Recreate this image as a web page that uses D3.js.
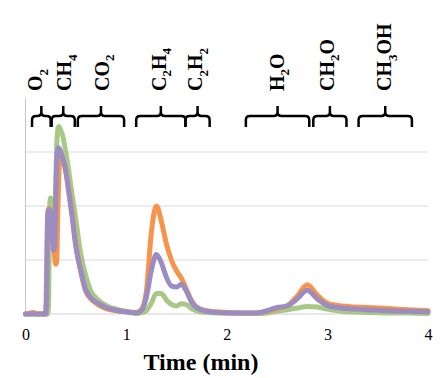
<!DOCTYPE html>
<html>
<head>
<meta charset="utf-8">
<script src="https://cdn.jsdelivr.net/npm/d3@7"></script>
<style>
  body { margin: 0; background: #fff; }
  svg { display: block; }
</style>
</head>
<body>
<svg id="chart" width="443" height="378"></svg>
<script>
// time axis (min), shared by all three traces
const times = [0, 0.05, 0.08, 0.12, 0.20, 0.21, 0.22, 0.23, 0.24, 0.25, 0.26, 0.27, 0.28, 0.29, 0.30,
  0.31, 0.32, 0.33, 0.34, 0.35, 0.37, 0.40, 0.43, 0.46, 0.50, 0.55, 0.60, 0.65, 0.70, 0.80, 0.90, 1.00,
  1.10, 1.15, 1.20, 1.25, 1.30, 1.35, 1.40, 1.45, 1.50, 1.55, 1.60, 1.65, 1.70, 1.80, 1.90, 2.00,
  2.20, 2.30, 2.40, 2.50, 2.60, 2.70, 2.80, 2.90, 3.00, 3.10, 3.20, 3.40, 3.60, 3.80, 4.00];

const orangeTrace = [0, 0.02, 0.03, 0, 0, 0.8, 1.85, 1.95, 1.95, 1.9, 1.75, 1.5, 1.25, 1.05, 0.92, 0.98,
  1.8, 2.5, 2.85, 2.9, 2.85, 2.65, 2.3, 1.9, 1.3, 0.78, 0.42, 0.28, 0.2, 0.1, 0.06, 0.04,
  0.03, 0.08, 0.4, 1.5, 2.0, 1.72, 1.3, 1.0, 0.8, 0.66, 0.45, 0.25, 0.13, 0.06, 0.04, 0.03,
  0.02, 0.02, 0.05, 0.1, 0.15, 0.33, 0.54, 0.35, 0.2, 0.16, 0.14, 0.12, 0.1, 0.08, 0.06];

const greenTrace = [0, 0, 0, 0, 0, 0, 0, 0.2, 2.0, 2.15, 2.0, 1.6, 1.35, 1.5, 2.4, 3.1,
  3.4, 3.47, 3.45, 3.4, 3.3, 3.0, 2.65, 2.25, 1.75, 1.1, 0.7, 0.42, 0.3, 0.16, 0.09, 0.05,
  0.01, 0.02, 0.06, 0.2, 0.38, 0.38, 0.26, 0.18, 0.15, 0.19, 0.17, 0.1, 0.06, 0.03, 0.02, 0.02,
  0.01, 0.01, 0.02, 0.05, 0.08, 0.11, 0.14, 0.13, 0.09, 0.06, 0.04, 0.03, 0.02, 0.02, 0.01];

const purpleTrace = [0, 0, 0, 0, 0, 0.3, 1.75, 1.92, 1.93, 1.8, 1.55, 1.35, 1.18, 1.3, 2.1, 2.8,
  3.05, 3.08, 3.05, 3.0, 2.88, 2.65, 2.25, 1.85, 1.25, 0.8, 0.44, 0.3, 0.22, 0.12, 0.07, 0.04,
  0.02, 0.06, 0.3, 0.8, 1.1, 0.95, 0.68, 0.52, 0.5, 0.55, 0.42, 0.22, 0.12, 0.05, 0.03, 0.02,
  0.02, 0.02, 0.06, 0.12, 0.15, 0.28, 0.44, 0.28, 0.16, 0.12, 0.1, 0.08, 0.06, 0.05, 0.04];

// species brackets along the top (time units)
const species = ["O2", "CH4", "CO2", "C2H4", "C2H2", "H2O", "CH2O", "CH3OH"];
const bracketStart = [0.065, 0.26, 0.52, 1.10, 1.59, 2.19, 2.86, 3.31];
const bracketEnd = [0.25, 0.49, 0.98, 1.59, 1.83, 2.82, 3.19, 3.84];
const labelTime = [0.10, 0.39, 0.76, 1.33, 1.69, 2.50, 3.00, 3.57];

const xTicks = [0, 1, 2, 3, 4];
const gridValues = [1, 2, 3];

const margin = { top: 98, right: 15, bottom: 64, left: 25.5 };
const width = 443, height = 378;

const svg = d3.select("#chart");

const x = d3.scaleLinear().domain([0, 4]).range([margin.left, width - margin.right]);
const y = d3.scaleLinear().domain([0, 4]).range([height - margin.bottom, margin.top]);

// gridlines
svg.append("g")
  .selectAll("line")
  .data(gridValues)
  .join("line")
  .attr("x1", x(0)).attr("x2", x(4))
  .attr("y1", d => y(d)).attr("y2", d => y(d))
  .attr("stroke", "#d9d9d9")
  .attr("stroke-width", 1);

// axis lines
svg.append("line")
  .attr("x1", x(0)).attr("x2", x(0))
  .attr("y1", y(0)).attr("y2", y(4))
  .attr("stroke", "#c8c8c8");
svg.append("line")
  .attr("x1", x(0)).attr("x2", x(4))
  .attr("y1", y(0)).attr("y2", y(0))
  .attr("stroke", "#d0d0d0");

// x tick labels
const xAxis = svg.append("g")
  .attr("transform", `translate(0,${y(0)})`)
  .call(d3.axisBottom(x).tickValues(xTicks).tickFormat(d3.format("d")).tickSize(0).tickPadding(15));
xAxis.select(".domain").remove();
xAxis.selectAll("text")
  .attr("font-family", "'Liberation Serif', 'Times New Roman', serif")
  .attr("font-size", 16)
  .attr("fill", "#000");

svg.append("text")
  .attr("x", 201)
  .attr("y", 370)
  .attr("text-anchor", "middle")
  .attr("font-family", "'Liberation Serif', 'Times New Roman', serif")
  .attr("font-weight", "bold")
  .attr("font-size", 24)
  .text("Time (min)");

// traces
const line = d3.line()
  .x(d => x(d[0]))
  .y(d => y(d[1]))
  .curve(d3.curveMonotoneX);

const traces = [
  { values: greenTrace, color: "#a8c986" },
  { values: orangeTrace, color: "#f7934a" },
  { values: purpleTrace, color: "#9b8cc2" }
];

traces.forEach(tr => {
  svg.append("path")
    .datum(times.map((t, i) => [t, tr.values[i]]))
    .attr("d", line)
    .attr("fill", "none")
    .attr("stroke", tr.color)
    .attr("stroke-width", 5)
    .attr("stroke-linejoin", "round")
    .attr("stroke-linecap", "round");
});

// curly brackets
const yTip = 106, yBar = 116, yEnd = 127, r = 4;
function bracePath(x0, x1) {
  const xm = (x0 + x1) / 2;
  return `M${x0},${yEnd} L${x0},${yBar + r} Q${x0},${yBar} ${x0 + r},${yBar} L${xm - r},${yBar} ` +
    `Q${xm},${yBar} ${xm},${yBar - r} L${xm},${yTip} M${xm},${yBar - r} Q${xm},${yBar} ${xm + r},${yBar} ` +
    `L${x1 - r},${yBar} Q${x1},${yBar} ${x1},${yBar + r} L${x1},${yEnd}`;
}

svg.append("g")
  .selectAll("path")
  .data(species.map((s, i) => [bracketStart[i], bracketEnd[i]]))
  .join("path")
  .attr("d", d => bracePath(x(d[0]), x(d[1])))
  .attr("fill", "none")
  .attr("stroke", "#000")
  .attr("stroke-width", 2.5);

// rotated formula labels with subscripts
species.forEach((s, i) => {
  const t = svg.append("text")
    .attr("transform", `translate(${x(labelTime[i]) + 6.6},91) rotate(-90)`)
    .attr("font-family", "'Liberation Serif', 'Times New Roman', serif")
    .attr("font-weight", "bold")
    .attr("font-size", 20)
    .attr("fill", "#000");
  const parts = s.match(/[A-Z][a-z]?|\d+/g);
  let sub = false;
  parts.forEach(p => {
    const isNum = /\d/.test(p);
    const ts = t.append("tspan").text(p);
    if (isNum && !sub) { ts.attr("font-size", 13).attr("dy", 5.5); sub = true; }
    else if (!isNum && sub) { ts.attr("dy", -5.5); sub = false; }
  });
});
</script>
</body>
</html>
